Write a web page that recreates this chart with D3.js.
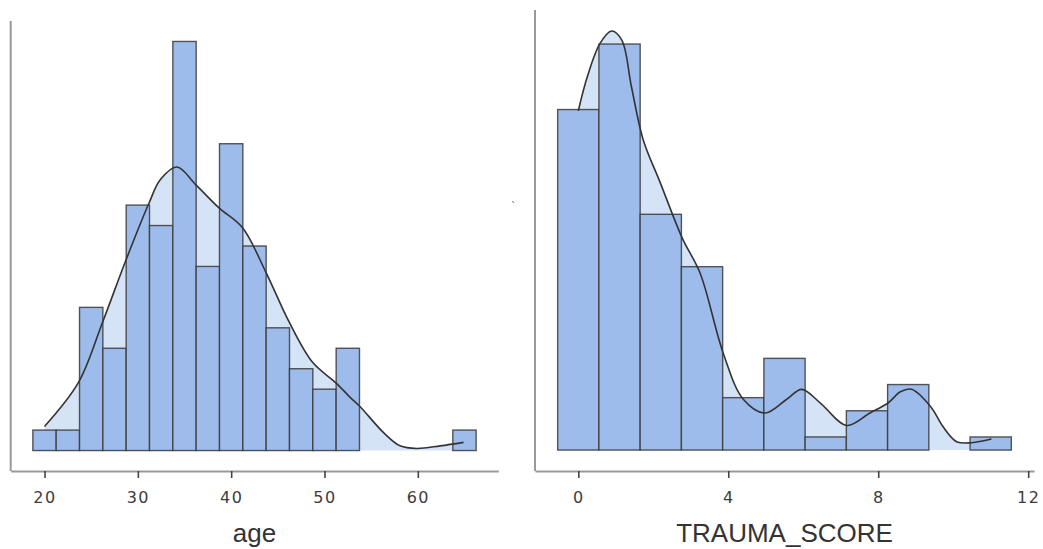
<!DOCTYPE html>
<html lang="en">
<head>
    <meta charset="UTF-8">
    <title>Histograms</title>
    <style>
        body{margin:0;background:#fff;}
    </style>
</head>
<body>

</body>
<script src="https://cdn.jsdelivr.net/npm/d3@7/dist/d3.min.js"></script>
<script>
    // age histogram
    var ageEdges=[18.75,21.25,23.75,26.25,28.75,31.25,33.75,36.25,38.75,41.25,
        43.75,46.25,48.75,51.25,53.75,56.25,58.75,61.25,63.75,66.25];
    var ageCounts=[1,1,7,5,12,11,20,9,15,10,6,4,3,5,0,0,0,0,1];
    var ageDensity=[[20,1.18],[23.64,3.33],[26.2,6.25],[28.75,9.34],[31.2,12.1],
        [32.4,13.24],[34.2,13.86],[36.2,13.0],[38.7,11.86],[41.2,10.9],[43.75,8.69],
        [46.25,6.25],[48.75,4.3],[51.25,3.3],[52.75,2.6],[53.75,2.18],[56.3,0.89],
        [58.1,0.23],[59.9,0.1],[62.4,0.23],[64.9,0.4]];
    var ageTicks=[20,30,40,50,60];

    // trauma score histogram
    var traumaEdges=[-0.55,0.55,1.65,2.75,3.85,4.95,6.05,7.15,8.25,9.35,10.45,11.55];
    var traumaCounts=[26,31,18,14,4,7,1,3,5,0,1];
    var traumaDensity=[[0,25.9],[0.24,28.5],[0.58,31.05],[0.89,32.0],[1.16,31.3],
        [1.42,27.7],[1.73,23.7],[2.18,20.46],[2.77,16.2],[3.25,13.5],[3.87,7.36],
        [4.4,3.88],[4.98,2.83],[5.56,3.88],[5.96,4.63],[6.45,3.61],[7.16,1.88],
        [7.78,2.83],[8.27,3.61],[8.59,4.45],[8.89,4.64],[9.4,3.31],[9.73,1.78],
        [10.09,0.64],[10.49,0.56],[11.02,0.84]];
    var traumaTicks=[0,4,8,12];

    var width=1043;
    var height=549;

    var svg=d3.select('body')
            .append('svg')
            .attr('width',width)
            .attr('height',height);

    function drawPanel(edges,counts,density,ticks,title,left,right,top){
        var bottom=471;
        var lo=edges[0],hi=edges[edges.length-1];
        var pad=(hi-lo)*0.05;
        var x=d3.scaleLinear().domain([lo-pad,hi+pad]).range([left,right]);
        var m=Math.max(d3.max(counts),d3.max(density,function(d){return d[1];}));
        var y=d3.scaleLinear().domain([-0.05*m,1.05*m]).range([bottom,top]);

        var g=svg.append('g');

        var area=d3.area()
                .curve(d3.curveCatmullRom)
                .x(function(d){return x(d[0]);})
                .y0(y(0))
                .y1(function(d){return y(d[1]);});
        var line=d3.line()
                .curve(d3.curveCatmullRom)
                .x(function(d){return x(d[0]);})
                .y(function(d){return y(d[1]);});

        g.append('path')
                .attr('d',area(density))
                .attr('fill','#d5e3f6');

        var bins=counts.map(function(c,i){return {x0:edges[i],x1:edges[i+1],n:c};})
                .filter(function(d){return d.n>0;});

        g.selectAll('rect')
                .data(bins)
                .enter()
                .append('rect')
                .attr('x',function(d){return x(d.x0);})
                .attr('width',function(d){return x(d.x1)-x(d.x0);})
                .attr('y',function(d){return y(d.n);})
                .attr('height',function(d){return y(0)-y(d.n);})
                .attr('fill','#9dbceb')
                .attr('stroke','#3a3a3a')
                .attr('stroke-opacity',0.85)
                .attr('stroke-width',1.4);

        g.append('path')
                .attr('d',line(density))
                .attr('fill','none')
                .attr('stroke','#333')
                .attr('stroke-width',1.6);

        // y axis: line only, no ticks
        g.append('line')
                .attr('x1',left).attr('x2',left)
                .attr('y1',top).attr('y2',bottom)
                .attr('stroke','#999')
                .attr('stroke-width',2);

        var ax=g.append('g')
                .attr('transform','translate(0,'+bottom+')')
                .call(d3.axisBottom(x).tickValues(ticks).tickSize(7).tickSizeOuter(0).tickPadding(14));
        ax.select('.domain')
                .attr('stroke','#999')
                .attr('stroke-width',2);
        ax.selectAll('.tick line')
                .attr('stroke','#444')
                .attr('stroke-width',1.6);
        ax.selectAll('.tick text')
                .attr('fill','#3c3c3c')
                .attr('font-family','DejaVu Sans')
                .attr('font-size','16px')
                .attr('letter-spacing','1.5px');

        g.append('text')
                .attr('x',(left+right)/2)
                .attr('y',542)
                .attr('text-anchor','middle')
                .attr('fill','#333')
                .attr('font-family','Liberation Sans')
                .attr('font-size','26px')
                .text(title);
    }

    drawPanel(ageEdges,ageCounts,ageDensity,ageTicks,'age',10.7,498.3,21);
    drawPanel(traumaEdges,traumaCounts,traumaDensity,traumaTicks,'TRAUMA_SCORE',535,1034,10);

    svg.append('text')
            .attr('x',511)
            .attr('y',210)
            .attr('fill','#555')
            .attr('font-family','DejaVu Sans')
            .attr('font-size','10px')
            .text('`');
</script>
</html>
